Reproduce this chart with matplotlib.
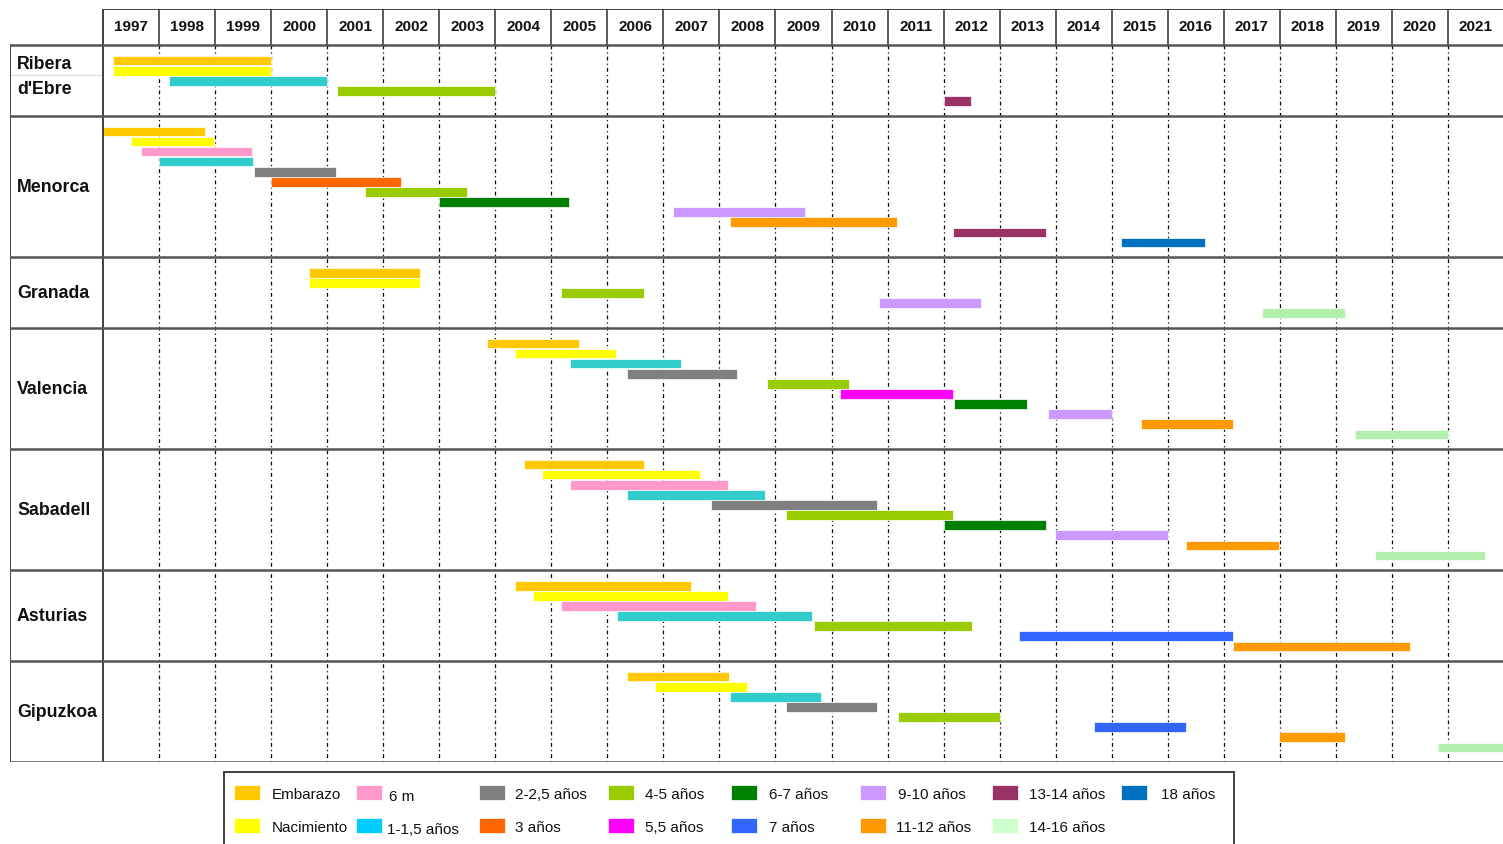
import matplotlib
matplotlib.use("Agg")
import matplotlib.pyplot as plt
from matplotlib import font_manager
from matplotlib.patches import Rectangle

# ---------------- DATA ----------------
years = list(range(1997, 2022))

categories = ["Embarazo", "Nacimiento", "6 m", "1-1,5 años", "2-2,5 años", "3 años",
              "4-5 años", "5,5 años", "6-7 años", "7 años", "9-10 años", "11-12 años",
              "13-14 años", "14-16 años", "18 años"]
bar_colors = ["#FFC800", "#FFFF00", "#FF99CC", "#33CCCC", "#808080", "#FF6600",
              "#99CC00", "#FF00FF", "#008000", "#3366FF", "#CC99FF", "#FF9900",
              "#993366", "#B3F0AE", "#0070C0"]
legend_colors = ["#FFC800", "#FFFF00", "#FF99CC", "#00CCFF", "#808080", "#FF6600",
                 "#99CC00", "#FF00FF", "#008000", "#3366FF", "#CC99FF", "#FF9900",
                 "#993366", "#CCFFCC", "#0070C0"]

sites = ["Ribera d'Ebre", "Menorca", "Granada", "Valencia", "Sabadell", "Asturias", "Gipuzkoa"]

ribera_cats = ["Embarazo", "Nacimiento", "1-1,5 años", "4-5 años", "13-14 años"]
ribera_start = [1997.18, 1997.18, 1998.18, 2001.18, 2012.0]
ribera_end = [2000.0, 2000.0, 2001.0, 2004.0, 2012.49]

menorca_cats = ["Embarazo", "Nacimiento", "6 m", "1-1,5 años", "2-2,5 años", "3 años",
                "4-5 años", "6-7 años", "9-10 años", "11-12 años", "13-14 años", "18 años"]
menorca_start = [1997.0, 1997.5, 1997.68, 1998.0, 1999.69, 2000.0,
                 2001.68, 2003.0, 2007.18, 2008.18, 2012.16, 2015.17]
menorca_end = [1998.82, 1998.98, 1999.65, 1999.68, 2001.16, 2002.32,
               2003.49, 2005.32, 2009.52, 2011.16, 2013.83, 2016.66]

granada_cats = ["Embarazo", "Nacimiento", "4-5 años", "9-10 años", "14-16 años"]
granada_start = [2000.68, 2000.68, 2005.17, 2010.85, 2017.68]
granada_end = [2002.66, 2002.66, 2006.65, 2012.66, 2019.16]

valencia_cats = ["Embarazo", "Nacimiento", "1-1,5 años", "2-2,5 años", "4-5 años",
                 "5,5 años", "6-7 años", "9-10 años", "11-12 años", "14-16 años"]
valencia_start = [2003.85, 2004.35, 2005.34, 2006.35, 2008.85,
                  2010.16, 2012.18, 2013.86, 2015.52, 2019.34]
valencia_end = [2005.5, 2006.15, 2007.32, 2008.32, 2010.32,
                2012.16, 2013.49, 2015.0, 2017.16, 2021.0]

sabadell_cats = ["Embarazo", "Nacimiento", "6 m", "1-1,5 años", "2-2,5 años",
                 "4-5 años", "6-7 años", "9-10 años", "11-12 años", "14-16 años"]
sabadell_start = [2004.51, 2004.84, 2005.34, 2006.35, 2007.85,
                  2009.18, 2012.0, 2013.99, 2016.33, 2019.69]
sabadell_end = [2006.65, 2007.65, 2008.16, 2008.82, 2010.82,
                2012.16, 2013.83, 2016.0, 2017.99, 2021.66]

asturias_cats = ["Embarazo", "Nacimiento", "6 m", "1-1,5 años", "4-5 años",
                 "7 años", "11-12 años"]
asturias_start = [2004.35, 2004.68, 2005.18, 2006.18, 2009.68, 2013.35, 2017.16]
asturias_end = [2007.49, 2008.16, 2008.66, 2009.66, 2012.5, 2017.16, 2020.32]

gipuzkoa_cats = ["Embarazo", "Nacimiento", "1-1,5 años", "2-2,5 años", "4-5 años",
                 "7 años", "11-12 años", "14-16 años"]
gipuzkoa_start = [2006.35, 2006.85, 2008.18, 2009.18, 2011.18, 2014.68, 2017.99, 2020.83]
gipuzkoa_end = [2008.17, 2008.49, 2009.82, 2010.82, 2013.0, 2016.33, 2019.16, 2022.0]

site_data = [
    (ribera_cats, ribera_start, ribera_end),
    (menorca_cats, menorca_start, menorca_end),
    (granada_cats, granada_start, granada_end),
    (valencia_cats, valencia_start, valencia_end),
    (sabadell_cats, sabadell_start, sabadell_end),
    (asturias_cats, asturias_start, asturias_end),
    (gipuzkoa_cats, gipuzkoa_start, gipuzkoa_end),
]

# ---------------- FONTS ----------------
installed = {f.name for f in font_manager.fontManager.ttflist}
BASE = "Liberation Sans" if "Liberation Sans" in installed else "DejaVu Sans"
if "Liberation Sans Narrow" in installed:
    YEAR_FONT, YEAR_SIZE = "Liberation Sans Narrow", 12.2
else:
    YEAR_FONT, YEAR_SIZE = BASE, 11.0
plt.rcParams["font.family"] = [BASE, "DejaVu Sans"]

# ---------------- LAYOUT ----------------
W, H = 1503, 845
fig = plt.figure(figsize=(W / 100, H / 100), dpi=100)

L_PX, R_PX, T_PX, B_PX = 10, 1504, 10, 763
COL0_PX = 103
YEAR_PX = 56.04
ax = fig.add_axes([L_PX / W, 1 - B_PX / H, (R_PX - L_PX) / W, (B_PX - T_PX) / H])
XMIN = 1997 - (COL0_PX - L_PX) / YEAR_PX
XMAX = 1997 + (R_PX - COL0_PX) / YEAR_PX

row_sizes = [len(c) + 2 for c, _, _ in site_data]
total = sum(row_sizes)
SLOT_PX = (B_PX - T_PX - 36) / total
HEADER = 36 / SLOT_PX
ax.set_xlim(XMIN, XMAX)
ax.set_ylim(total, -HEADER)
ax.axis("off")

color_of = dict(zip(categories, bar_colors))

# grid lines
line_dark = "#404040"
for yr in years[1:]:
    ax.plot([yr, yr], [-HEADER, 0], color=line_dark, lw=1.2, solid_capstyle="butt", zorder=1)
    ax.plot([yr, yr], [0, total], color="black", lw=0.9, linestyle=(0, (3, 2.5, 1, 2.5)), zorder=1)
ax.plot([1997, 1997], [-HEADER, total], color=line_dark, lw=1.4, zorder=3)
ax.plot([1997, XMAX], [-HEADER, -HEADER], color=line_dark, lw=1.4, zorder=3)
ax.plot([XMIN, XMIN], [0, total], color=line_dark, lw=1.4, zorder=3)

# year labels
for yr in years:
    ax.text(yr + 0.5, -HEADER / 2 - 0.1, str(yr), ha="center", va="center",
            fontsize=YEAR_SIZE, fontweight="bold", family=[YEAR_FONT, "DejaVu Sans"],
            color="#111111", zorder=4)

# rows and bars
top = 0.0
label_x = XMIN + 7 / YEAR_PX
for name, size, (cats, starts, ends) in zip(sites, row_sizes, site_data):
    ax.plot([XMIN, XMAX], [top, top], color="#555555", lw=1.8, zorder=3)
    ys = [top + 1.55 + k for k in range(len(cats))]
    ax.barh(ys, [e - s for s, e in zip(starts, ends)], left=starts, height=0.95,
            color=[color_of[c] for c in cats], edgecolor="white", linewidth=0.5, zorder=2)
    if name == "Ribera d'Ebre":
        ax.text(label_x, top + 1.8, "Ribera", ha="left", va="center", fontsize=12.8,
                fontweight="bold", color="#111111")
        ax.text(label_x, top + 4.3, "d'Ebre", ha="left", va="center", fontsize=12.8,
                fontweight="bold", color="#111111")
        ax.plot([XMIN, 1997], [top + 3.0, top + 3.0], color="#dde3ee", lw=1.0, zorder=1)
    else:
        ax.text(label_x, top + size / 2, name, ha="left", va="center", fontsize=12.8,
                fontweight="bold", color="#111111")
    top += size
ax.plot([XMIN, XMAX], [top, top], color="#555555", lw=1.8, zorder=3)

# ---------------- LEGEND ----------------
LG_L, LG_R, LG_T, LG_B = 224, 1234, 773, 847
lax = fig.add_axes([LG_L / W, 1 - LG_B / H, (LG_R - LG_L) / W, (LG_B - LG_T) / H])
lax.set_xlim(LG_L, LG_R)
lax.set_ylim(LG_B, LG_T)
lax.set_xticks([])
lax.set_yticks([])
for s in lax.spines.values():
    s.set_color(line_dark)
    s.set_linewidth(1.4)

sw_x = [234, 356, 479, 608, 731, 860, 992, 1121]
txt_x = [[272, 389, 515, 645, 769, 898, 1029, 1161],
         [272, 387, 515, 645, 769, 896, 1029, 1029]]
row_y = [794, 827]
txt_dy = {"6 m": 2.5, "1-1,5 años": 2.5}
for i, (cat, col) in enumerate(zip(categories, legend_colors)):
    c, r = divmod(i, 2)
    lax.add_patch(Rectangle((sw_x[c], row_y[r] - 7.5), 26, 15, facecolor=col,
                            edgecolor="white", linewidth=0.5))
    lax.text(txt_x[r][c], row_y[r] + 1 + txt_dy.get(cat, 0), cat, ha="left", va="center",
             fontsize=11, color="#111111")

fig.savefig("out.png", dpi=100)
